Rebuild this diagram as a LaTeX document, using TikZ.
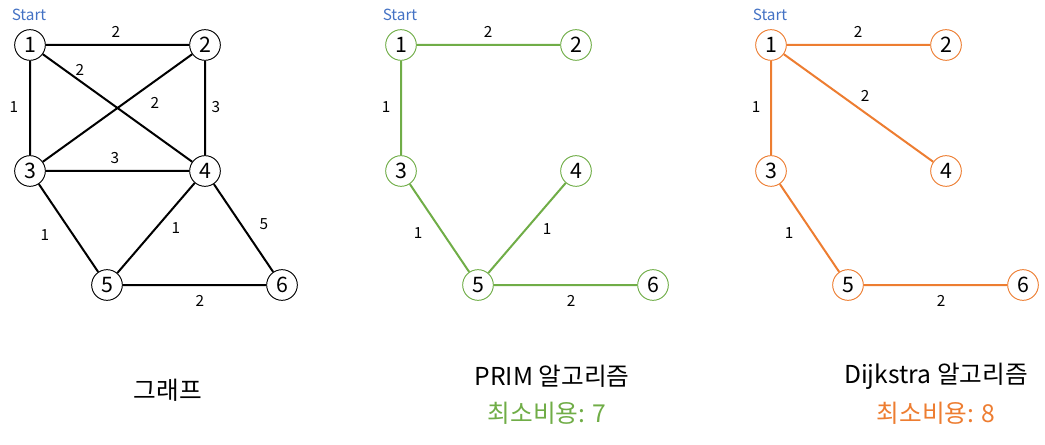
\documentclass[tikz,border=0pt]{standalone}
\usepackage{fontspec}
\setmainfont{Noto Sans CJK KR}
\usetikzlibrary{calc}
\definecolor{startblue}{HTML}{4472C4}
\definecolor{primgreen}{HTML}{70AD47}
\definecolor{dijorange}{HTML}{ED7D31}

\begin{document}
\begin{tikzpicture}[x=0.75pt,y=-0.75pt,
  vtx/.style={circle,draw,fill=white,line width=0.7pt,minimum size=23pt,inner sep=0pt,
    font=\fontsize{16}{16}\selectfont},
  edg/.style={line width=1.5pt},
  lbl/.style={inner sep=0pt,font=\fontsize{11.5}{13}\selectfont},
  ttl/.style={inner sep=0pt,font=\fontsize{18.5}{22}\selectfont}]
\useasboundingbox (0,0) rectangle (1045,445);

% the same six vertices, three times
\foreach \g/\dx/\col in {a/0/black, b/371/primgreen, c/741/dijorange} {
  \node[vtx,draw=\col] (\g1) at (30+\dx,45) {1};
  \node[vtx,draw=\col] (\g2) at (205+\dx,45) {2};
  \node[vtx,draw=\col] (\g3) at (30+\dx,171) {3};
  \node[vtx,draw=\col] (\g4) at (205+\dx,171) {4};
  \node[vtx,draw=\col] (\g5) at (107+\dx,285) {5};
  \node[vtx,draw=\col] (\g6) at (282+\dx,285) {6};
  \node[lbl,text=startblue] (\g s) at (29+\dx,15) {Start};
}

% graph
\draw[edg] (a1) -- (a2) (a1) -- (a3) (a1) -- (a4) (a2) -- (a3) (a2) -- (a4)
  (a3) -- (a4) (a3) -- (a5) (a4) -- (a5) (a4) -- (a6) (a5) -- (a6);
\node[lbl] (la12) at (116,32) {2};
\node[lbl] (la13) at (14,107) {1};
\node[lbl] (la14) at (80,70) {2};
\node[lbl] (la23) at (155,103) {2};
\node[lbl] (la24) at (216,107) {3};
\node[lbl] (la34) at (115,158) {3};
\node[lbl] (la35) at (45,235) {1};
\node[lbl] (la45) at (176,228) {1};
\node[lbl] (la46) at (264,224) {5};
\node[lbl] (la56) at (200,301) {2};

% prim
\draw[edg,primgreen] (b1) -- (b2) (b1) -- (b3) (b3) -- (b5) (b4) -- (b5) (b5) -- (b6);
\node[lbl] (lb12) at (488,32) {2};
\node[lbl] (lb13) at (386,107) {1};
\node[lbl] (lb35) at (418,233) {1};
\node[lbl] (lb45) at (547,229) {1};
\node[lbl] (lb56) at (571,301) {2};

% dijkstra
\draw[edg,dijorange] (c1) -- (c2) (c1) -- (c3) (c1) -- (c4) (c3) -- (c5) (c5) -- (c6);
\node[lbl] (lc12) at (858,32) {2};
\node[lbl] (lc13) at (756,107) {1};
\node[lbl] (lc14) at (865,96) {2};
\node[lbl] (lc35) at (789,233) {1};
\node[lbl] (lc56) at (941,301) {2};

% captions
\node[ttl] (tga) at (168,390) {그래프};
\node[ttl] (tgb) at (552,376) {PRIM 알고리즘};
\node[ttl,text=primgreen] (cost b) at (547,413) {최소비용: 7};
\node[ttl] (tgc) at (936,376) {Dijkstra 알고리즘};
\node[ttl,text=dijorange] (cost c) at (936,413) {최소비용: 8};
\end{tikzpicture}
\end{document}
